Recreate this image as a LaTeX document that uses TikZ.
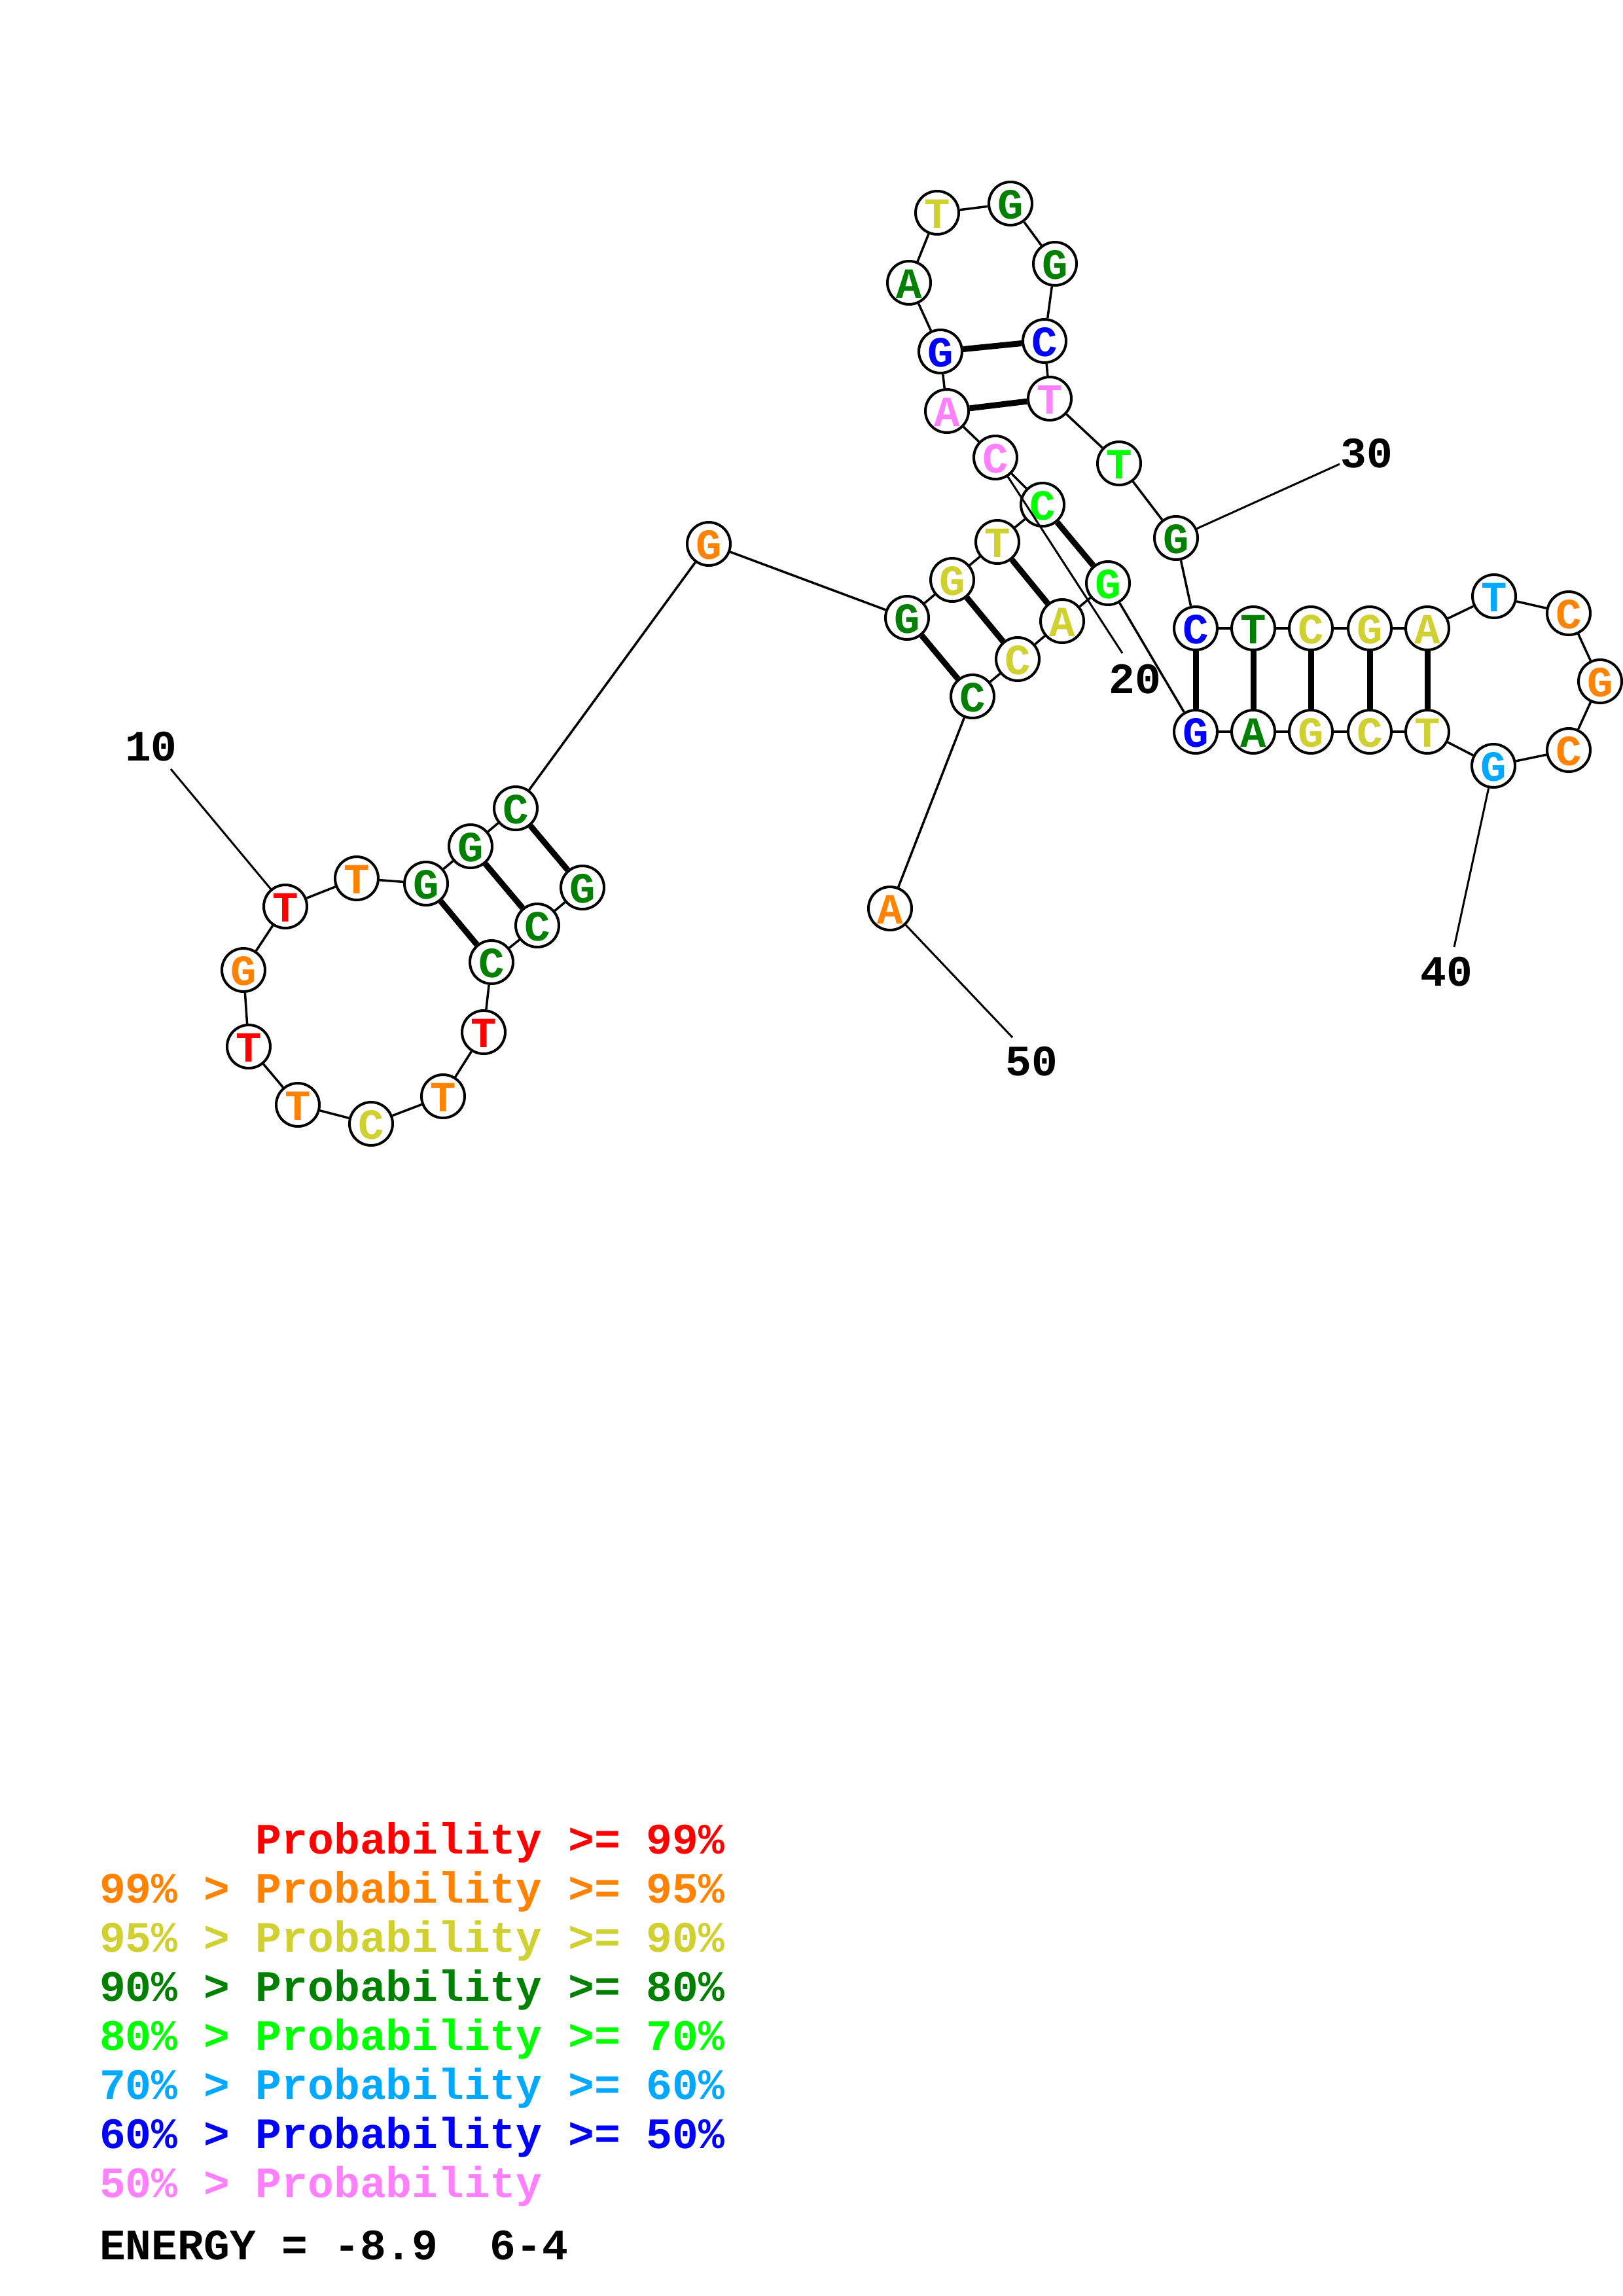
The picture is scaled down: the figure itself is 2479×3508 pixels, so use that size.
\documentclass[tikz,border=0pt]{standalone}
\usepackage{fontspec}
\newfontfamily\courfam{Liberation Mono}
\definecolor{cR}{RGB}{255,0,0}
\definecolor{cO}{RGB}{255,130,0}
\definecolor{cY}{RGB}{208,208,48}
\definecolor{cDG}{RGB}{0,128,0}
\definecolor{cLG}{RGB}{0,255,0}
\definecolor{cCY}{RGB}{0,168,255}
\definecolor{cB}{RGB}{0,0,255}
\definecolor{cP}{RGB}{255,128,255}
\newcommand{\bigmono}{\courfam\bfseries\fontsize{65.8}{70}\selectfont}
\newcommand{\legmono}{\courfam\bfseries\fontsize{66.3}{70}\selectfont}
\tikzset{
  nuc/.style={circle, draw=black, line width=4pt, fill=white, minimum size=66pt,
    inner sep=0pt, text height=46.7pt, text depth=0pt, font=\bigmono},
  bb/.style={line width=3.5pt},
  bond/.style={line width=9pt},
  numline/.style={line width=3pt},
  numlab/.style={inner sep=0pt, font=\legmono, text=black},
  leg/.style={anchor=base west, inner sep=0pt, font=\legmono}
}
\begin{document}
\begin{tikzpicture}[x=1pt,y=-1pt]
\useasboundingbox (0,0) rectangle (2479,3508);
% nucleotides
\node[nuc,text=cDG] (n1) at (890,1356) {G};
\node[nuc,text=cDG] (n2) at (821,1414) {C};
\node[nuc,text=cDG] (n3) at (751,1470) {C};
\node[nuc,text=cR]  (n4) at (739,1577) {T};
\node[nuc,text=cO]  (n5) at (677,1675) {T};
\node[nuc,text=cY]  (n6) at (567,1717) {C};
\node[nuc,text=cO]  (n7) at (455,1688) {T};
\node[nuc,text=cR]  (n8) at (380,1599) {T};
\node[nuc,text=cO]  (n9) at (372,1482) {G};
\node[nuc,text=cR]  (n10) at (436,1385) {T};
\node[nuc,text=cO]  (n11) at (545,1342) {T};
\node[nuc,text=cDG] (n12) at (651,1350) {G};
\node[nuc,text=cDG] (n13) at (719,1293) {G};
\node[nuc,text=cDG] (n14) at (788,1235) {C};
\node[nuc,text=cO]  (n15) at (1083,831) {G};
\node[nuc,text=cDG] (n16) at (1386,944) {G};
\node[nuc,text=cY]  (n17) at (1455,886) {G};
\node[nuc,text=cY]  (n18) at (1524,828) {T};
\node[nuc,text=cLG] (n19) at (1593,771) {C};
\node[nuc,text=cP]  (n20) at (1521,699) {C};
\node[nuc,text=cP]  (n21) at (1447,628) {A};
\node[nuc,text=cB]  (n22) at (1437,537) {G};
\node[nuc,text=cDG] (n23) at (1389,432) {A};
\node[nuc,text=cY]  (n24) at (1432,325) {T};
\node[nuc,text=cDG] (n25) at (1544,311) {G};
\node[nuc,text=cDG] (n26) at (1612,403) {G};
\node[nuc,text=cB]  (n27) at (1596,521) {C};
\node[nuc,text=cP]  (n28) at (1604,609) {T};
\node[nuc,text=cLG] (n29) at (1710,708) {T};
\node[nuc,text=cDG] (n30) at (1797,822) {G};
\node[nuc,text=cB]  (n31) at (1827,960) {C};
\node[nuc,text=cDG] (n32) at (1915,960) {T};
\node[nuc,text=cY]  (n33) at (2003,960) {C};
\node[nuc,text=cY]  (n34) at (2093,960) {G};
\node[nuc,text=cY]  (n35) at (2181,960) {A};
\node[nuc,text=cCY] (n36) at (2283,911) {T};
\node[nuc,text=cO]  (n37) at (2397,937) {C};
\node[nuc,text=cO]  (n38) at (2445,1041) {G};
\node[nuc,text=cO]  (n39) at (2397,1146) {C};
\node[nuc,text=cCY] (n40) at (2282,1170) {G};
\node[nuc,text=cY]  (n41) at (2181,1118) {T};
\node[nuc,text=cY]  (n42) at (2093,1118) {C};
\node[nuc,text=cY]  (n43) at (2003,1118) {G};
\node[nuc,text=cDG] (n44) at (1915,1118) {A};
\node[nuc,text=cB]  (n45) at (1827,1118) {G};
\node[nuc,text=cLG] (n46) at (1693,891) {G};
\node[nuc,text=cY]  (n47) at (1623,949) {A};
\node[nuc,text=cY]  (n48) at (1555,1007) {C};
\node[nuc,text=cDG] (n49) at (1486,1064) {C};
\node[nuc,text=cO]  (n50) at (1360,1388) {A};
% backbone
\foreach \i [evaluate=\i as \j using int(\i+1)] in {1,...,49}
  \draw[bb] (n\i) -- (n\j);
% base pairs
\foreach \a/\b in {1/14,2/13,3/12,16/49,17/48,18/47,19/46,21/28,22/27,31/45,32/44,33/43,34/42,35/41}
  \draw[bond] (n\a) -- (n\b);
% numbering
\coordinate (e10) at (261,1175);
\coordinate (e20) at (1715,998);
\coordinate (e30) at (2047,709);
\coordinate (e40) at (2222,1447);
\coordinate (e50) at (1547,1585);
\node[numlab] (t10) at (231,1141) {10};
\node[numlab] (t20) at (1734,1038) {20};
\node[numlab] (t30) at (2088,693) {30};
\node[numlab] (t40) at (2210,1485) {40};
\node[numlab] (t50) at (1576,1622) {50};
\foreach \k in {10,20,30,40,50}
  \draw[numline] (n\k) -- (e\k);
% legend
\node[leg,text=cR]  (g1) at (390.7,2832) {Probability >= 99\%};
\node[leg,text=cO]  (g2) at (152,2907.1) {99\% > Probability >= 95\%};
\node[leg,text=cY]  (g3) at (152,2982.2) {95\% > Probability >= 90\%};
\node[leg,text=cDG] (g4) at (152,3057.3) {90\% > Probability >= 80\%};
\node[leg,text=cLG] (g5) at (152,3132.4) {80\% > Probability >= 70\%};
\node[leg,text=cCY] (g6) at (152,3207.5) {70\% > Probability >= 60\%};
\node[leg,text=cB]  (g7) at (152,3282.6) {60\% > Probability >= 50\%};
\node[leg,text=cP]  (g8) at (152,3357.7) {50\% > Probability};
\node[leg,text=black] (en) at (152,3452) {ENERGY = -8.9~~6-4};
\end{tikzpicture}
\end{document}
